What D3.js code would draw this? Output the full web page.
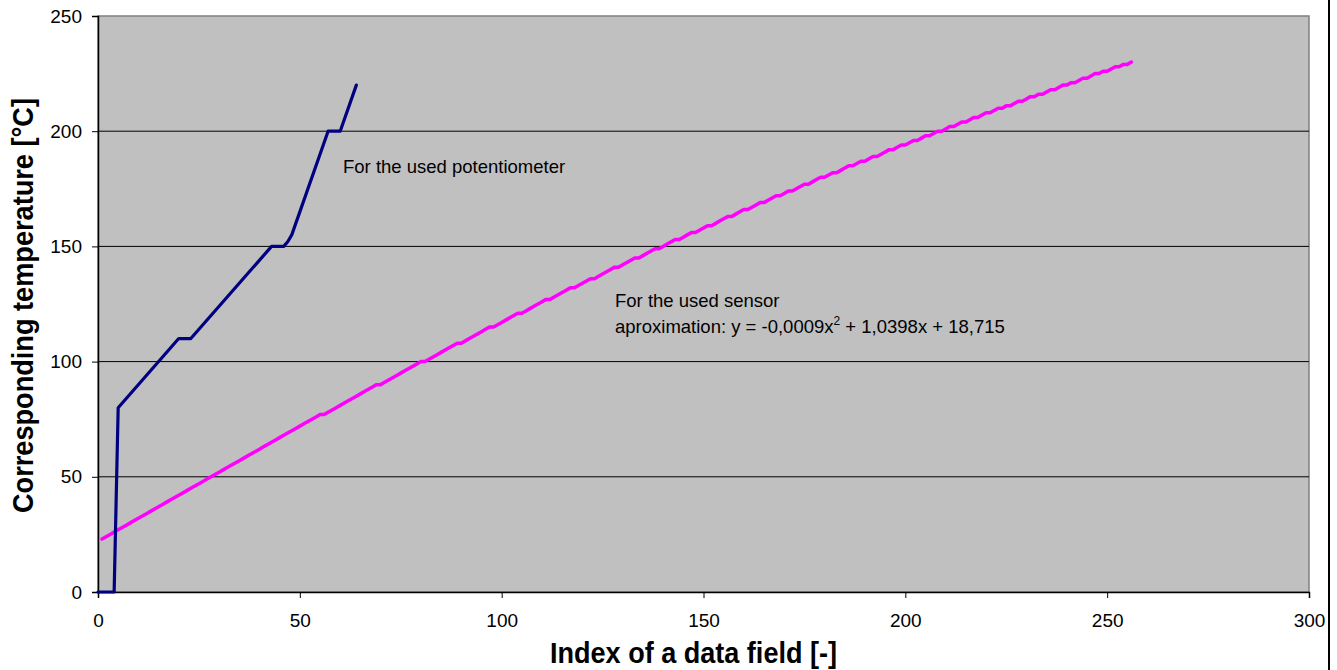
<!DOCTYPE html>
<html><head><meta charset="utf-8">
<script src="https://cdn.jsdelivr.net/npm/d3@7"></script>
<style>
html,body{margin:0;padding:0;background:#fff;}
svg{display:block;font-family:"Liberation Sans",Arial,sans-serif;}
</style></head>
<body>
<svg id="chart" width="1337" height="670"></svg>
<script>
// Potentiometer series (index, temperature)
const potX = [0, 4, 5, 20, 23, 43, 46, 47, 48, 57, 60, 64];
const potY = [0, 0, 80, 110, 110, 150, 150, 152, 155, 200, 200, 220];

// Sensor series: one temperature per index 1..256 (integer steps)
const sensStart = 1;
const sensY = [
  23,24,25,26,27,28,29,30,31,32,
  33,34,35,36,37,38,39,40,41,42,
  43,44,45,46,47,48,49,50,51,52,
  53,54,55,56,57,58,59,60,61,62,
  63,64,65,66,67,68,69,70,71,72,
  73,74,75,76,77,77,78,79,80,81,
  82,83,84,85,86,87,88,89,90,90,
  91,92,93,94,95,96,97,98,99,100,
  100,101,102,103,104,105,106,107,108,108,
  109,110,111,112,113,114,115,115,116,117,
  118,119,120,121,121,122,123,124,125,126,
  127,127,128,129,130,131,132,132,133,134,
  135,136,136,137,138,139,140,141,141,142,
  143,144,145,145,146,147,148,149,149,150,
  151,152,153,153,154,155,156,156,157,158,
  159,159,160,161,162,163,163,164,165,166,
  166,167,168,169,169,170,171,172,172,173,
  174,174,175,176,177,177,178,179,180,180,
  181,182,182,183,184,185,185,186,187,187,
  188,189,189,190,191,192,192,193,194,194,
  195,196,196,197,198,198,199,200,200,201,
  202,202,203,204,204,205,206,206,207,208,
  208,209,210,210,211,211,212,213,213,214,
  215,215,216,216,217,218,218,219,220,220,
  221,221,222,223,223,224,225,225,226,226,
  227,228,228,229,229,230
];

const xTicks = [0, 50, 100, 150, 200, 250, 300];
const yTicks = [0, 50, 100, 150, 200, 250];

const xTitle = "Index of a data field [-]";
const yTitle = "Corresponding temperature  [\u00B0C]";
const potLabel = "For the used potentiometer";
const sensLabel1 = "For the used sensor";
const sensLabel2a = "aproximation: y = -0,0009x";
const sensLabel2b = "2";
const sensLabel2c = " + 1,0398x + 18,715";

const svg = d3.select("#chart");
const L = 98, R = 1309, T = 16, B = 592;

const x = d3.scaleLinear().domain([0, 300]).range([L, R]);
const y = d3.scaleLinear().domain([0, 250]).range([B, T]);

// plot background
svg.append("rect").attr("x", L).attr("y", T).attr("width", R - L).attr("height", B - T)
  .attr("fill", "#c0c0c0").attr("stroke", "#808080").attr("stroke-width", 1.5);

// gridlines
svg.append("g").selectAll("line").data(yTicks.filter(d => d > 0 && d < 250)).join("line")
  .attr("x1", L).attr("x2", R).attr("y1", d => y(d)).attr("y2", d => y(d))
  .attr("stroke", "#000").attr("stroke-width", 1);

// axes
const xAxis = d3.axisBottom(x).tickValues(xTicks).tickSize(6).tickPadding(16);
const gx = svg.append("g").attr("transform", `translate(0,${B})`).call(xAxis);
gx.select(".domain").attr("stroke", "#000").attr("stroke-width", 1.5);
gx.selectAll(".tick line").attr("stroke", "#000");
gx.selectAll("text").attr("font-size", 19).attr("fill", "#000")
  .attr("font-family", "Liberation Sans, Arial, sans-serif");

const yAxis = d3.axisLeft(y).tickValues(yTicks).tickSize(6).tickPadding(10);
const gy = svg.append("g").attr("transform", `translate(${L},0)`).call(yAxis);
gy.select(".domain").attr("stroke", "#000").attr("stroke-width", 1.5);
gy.selectAll(".tick line").attr("stroke", "#000");
gy.selectAll("text").attr("font-size", 19).attr("fill", "#000")
  .attr("font-family", "Liberation Sans, Arial, sans-serif");

// lines
const line = d3.line().x(d => x(d[0])).y(d => y(d[1]));
svg.append("path").datum(sensY.map((v, i) => [sensStart + i, v]))
  .attr("d", line).attr("fill", "none").attr("stroke", "#ff00ff")
  .attr("stroke-width", 3.5).attr("stroke-linejoin", "round").attr("stroke-linecap", "round");
svg.append("path").datum(potX.map((v, i) => [v, potY[i]]))
  .attr("d", line).attr("fill", "none").attr("stroke", "#000080")
  .attr("stroke-width", 3.2).attr("stroke-linejoin", "round").attr("stroke-linecap", "round");

// annotations
svg.append("text").attr("x", 343).attr("y", 173).attr("font-size", 18.5).attr("fill", "#000").text(potLabel);
svg.append("text").attr("x", 615).attr("y", 307).attr("font-size", 18.5).attr("fill", "#000").text(sensLabel1);
const t2 = svg.append("text").attr("x", 615).attr("y", 333).attr("font-size", 18.5).attr("fill", "#000");
t2.append("tspan").text(sensLabel2a);
t2.append("tspan").attr("dy", -8).attr("font-size", 12).text(sensLabel2b);
t2.append("tspan").attr("dy", 8).text(sensLabel2c);

// axis titles
svg.append("text").attr("x", 693.5).attr("y", 663).attr("text-anchor", "middle")
  .attr("font-size", 29).attr("font-weight", "bold").attr("fill", "#000")
  .attr("textLength", 287).attr("lengthAdjust", "spacingAndGlyphs").text(xTitle);
svg.append("text").attr("transform", `translate(33,305.5) rotate(-90)`)
  .attr("text-anchor", "middle").attr("font-size", 29).attr("font-weight", "bold")
  .attr("textLength", 415).attr("lengthAdjust", "spacingAndGlyphs")
  .attr("fill", "#000").text(yTitle);

// right page border
svg.append("line").attr("x1", 1329).attr("x2", 1329).attr("y1", 0).attr("y2", 670)
  .attr("stroke", "#000").attr("stroke-width", 2);
</script>
</body></html>
